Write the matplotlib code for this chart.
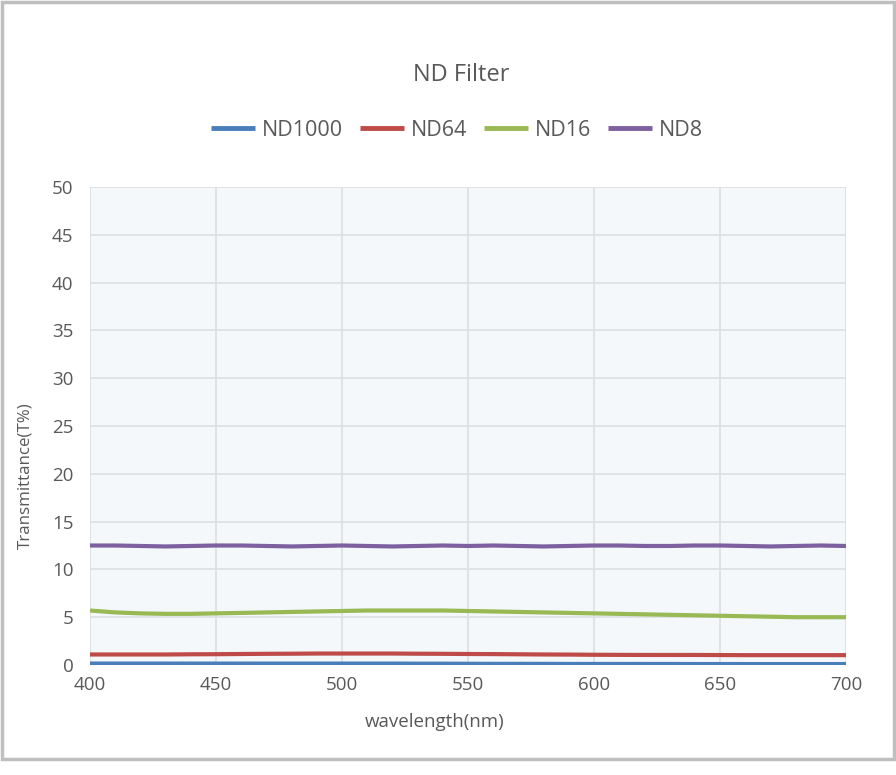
import numpy as np
import matplotlib.pyplot as plt
from matplotlib.patches import Rectangle

# wavelength grid (nm) and transmittance readings (T%)
wavelength = [400, 410, 420, 430, 440, 450, 460, 470, 480, 490, 500, 510, 520, 530, 540, 550,
              560, 570, 580, 590, 600, 610, 620, 630, 640, 650, 660, 670, 680, 690, 700]
nd1000 = [0.15, 0.15, 0.15, 0.15, 0.15, 0.15, 0.15, 0.15, 0.15, 0.15, 0.15, 0.15, 0.15, 0.14, 0.14, 0.13,
          0.12, 0.12, 0.12, 0.11, 0.11, 0.11, 0.11, 0.11, 0.1, 0.1, 0.1, 0.1, 0.1, 0.1, 0.1]
nd64 = [1.1, 1.1, 1.1, 1.1, 1.12, 1.13, 1.15, 1.17, 1.18, 1.2, 1.2, 1.2, 1.2, 1.18, 1.17, 1.15,
        1.14, 1.12, 1.1, 1.09, 1.07, 1.06, 1.05, 1.05, 1.05, 1.04, 1.03, 1.03, 1.03, 1.03, 1.03]
nd16 = [5.7, 5.5, 5.4, 5.35, 5.35, 5.4, 5.45, 5.5, 5.55, 5.6, 5.65, 5.7, 5.7, 5.7, 5.7, 5.65,
        5.6, 5.55, 5.5, 5.45, 5.4, 5.35, 5.3, 5.25, 5.2, 5.15, 5.1, 5.05, 5.0, 5.0, 5.0]
nd8 = [12.5, 12.5, 12.45, 12.4, 12.45, 12.5, 12.5, 12.45, 12.4, 12.45, 12.5, 12.45, 12.4, 12.45, 12.5, 12.45,
       12.5, 12.45, 12.4, 12.45, 12.5, 12.5, 12.45, 12.45, 12.5, 12.5, 12.45, 12.4, 12.45, 12.5, 12.45]

series = [("ND1000", nd1000, "#4A7EBB"),
          ("ND64", nd64, "#BE4B48"),
          ("ND16", nd16, "#98B954"),
          ("ND8", nd8, "#7D60A0")]

plt.rcParams['font.family'] = ['Open Sans', 'DejaVu Sans']

fig = plt.figure(figsize=(8.96, 7.75), dpi=100)
ax = fig.add_axes([90 / 896, 110 / 775, 756 / 896, 478 / 775])
ax.set_facecolor("#F4F8FB")

for name, vals, col in series:
    ax.plot(wavelength, vals, color=col, lw=3, label=name, solid_capstyle='butt')

ax.set_xlim(400, 700)
ax.set_ylim(0, 50)
ax.set_xticks(np.arange(400, 701, 50))
ax.set_yticks(np.arange(0, 51, 5))
ax.grid(True, color="#DDDFE2", lw=1.2)
ax.set_axisbelow(True)
for s in ax.spines.values():
    s.set_visible(False)
ax.tick_params(length=0, labelsize=13.5, colors="#595959", pad=8)
ax.tick_params(axis='y', pad=12)

# axis titles placed like the original (slightly off-centre)
fig.text(25 / 896, 1 - 476 / 775, "Transmittance(T%)", rotation=90, ha='center', va='center',
         fontsize=12.2, color="#595959")
fig.text(435 / 896, 1 - 722 / 775, "wavelength(nm)", ha='center', va='center',
         fontsize=13.5, color="#595959")

fig.text(0.515, 1 - 75 / 775, "ND Filter", ha='center', va='center', fontsize=17, color="#595959")
leg = fig.legend(loc='center', bbox_to_anchor=(0.51, 1 - 130 / 775), ncol=4, frameon=False,
                 fontsize=15.5, handlelength=2.05, handletextpad=0.3, columnspacing=0.8)
for t in leg.get_texts():
    t.set_color("#595959")
for h in leg.get_lines():
    h.set_linewidth(3.5)

fig.patches.append(Rectangle((1.5 / 896, 1 - 759 / 775), 892 / 896, 757 / 775, transform=fig.transFigure,
                             fill=False, edgecolor="#BFBFBF", lw=2.5))

fig.savefig("out.png", dpi=100)
